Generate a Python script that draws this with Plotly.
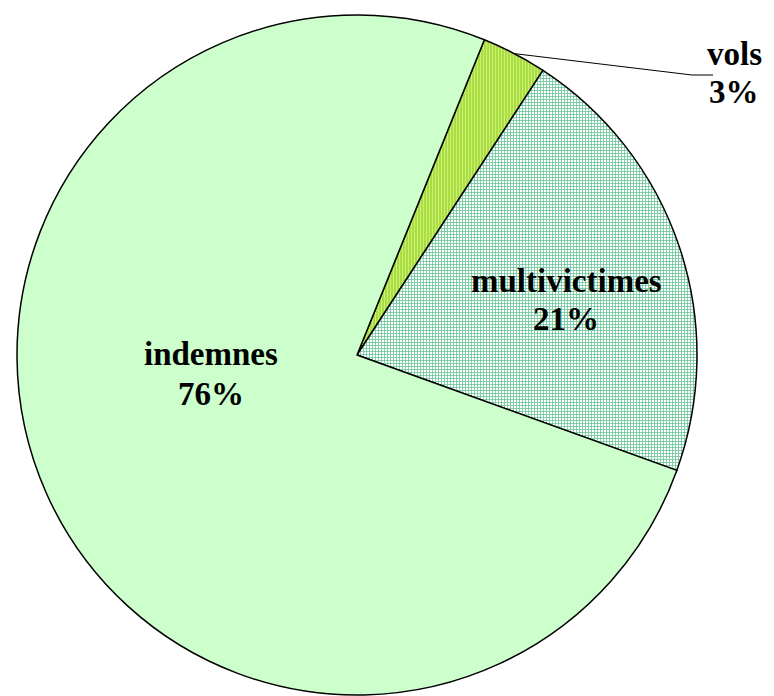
import math
import plotly.graph_objects as go

# Data (slice shares, %)
labels = ["vols", "multivictimes", "indemnes"]
values = [3.1, 21.3, 75.6]
shown_pct = ["3%", "21%", "76%"]

W, H = 774, 696
OFF = 8                        # page body margin shifts the figure
CX, CY, R = 357 - OFF, 355 - OFF, 340   # pie centre / radius in figure px
START_ANGLE = 22               # degrees clockwise from 12 o'clock

FONT = "Liberation Serif"
FONT_SIZE = 33

fig = go.Figure(
    go.Pie(
        labels=labels,
        values=values,
        sort=False,
        direction="clockwise",
        rotation=START_ANGLE,
        textinfo="none",
        hoverinfo="label+percent",
        marker=dict(
            colors=["#A6DE3C", "#FFFFFF", "#CCFFCC"],
            line=dict(color="#000000", width=1.5),
            pattern=dict(
                shape=["|", "+", ""],
                fgcolor=["#CDEE70", "#66C496", "#CCFFCC"],
                bgcolor=["#9BD933", "#FFFFFF", "#CCFFCC"],
                size=[3, 3, 3],
                solidity=[0.5, 0.45, 0.3],
            ),
        ),
        domain=dict(
            x=[(CX - R) / W, (CX + R) / W],
            y=[1 - (CY + R) / H, 1 - (CY - R) / H],
        ),
        showlegend=False,
    )
)


def to_paper(px, py):
    # page px -> paper coords
    return (px - OFF) / W, 1 - (py - OFF) / H


# leader line for the small "vols" slice, from its mid-angle on the rim
total = sum(values)
mid = math.radians(START_ANGLE + values[0] / total * 360 / 2)
x0, y0 = CX + OFF + R * math.sin(mid), CY + OFF - R * math.cos(mid)
pts = [to_paper(x0, y0), to_paper(692, 75), to_paper(713, 75)]
path = "M {} {} L {} {} L {} {}".format(*[c for p in pts for c in p])
fig.add_shape(type="path", path=path, xref="paper", yref="paper",
              line=dict(color="#000000", width=1))

# slice labels: (centre x, name line y, percent line y) in page px
label_pos = {
    "vols": (734, 54, 92),
    "multivictimes": (566, 281, 319),
    "indemnes": (211, 354, 394),
}
for name, pct in zip(labels, shown_pct):
    lx, ly1, ly2 = label_pos[name]
    for txt, ly in ((name, ly1), (pct, ly2)):
        px, py = to_paper(lx, ly)
        fig.add_annotation(
            x=px, y=py, xref="paper", yref="paper",
            xanchor="center", yanchor="middle",
            text=f"<b>{txt}</b>",
            showarrow=False,
            font=dict(family=FONT, size=FONT_SIZE, color="#000000"),
        )

fig.update_layout(
    width=W, height=H,
    margin=dict(l=0, r=0, t=0, b=0),
    paper_bgcolor="#FFFFFF",
    plot_bgcolor="#FFFFFF",
)

fig.write_html("out.html")
